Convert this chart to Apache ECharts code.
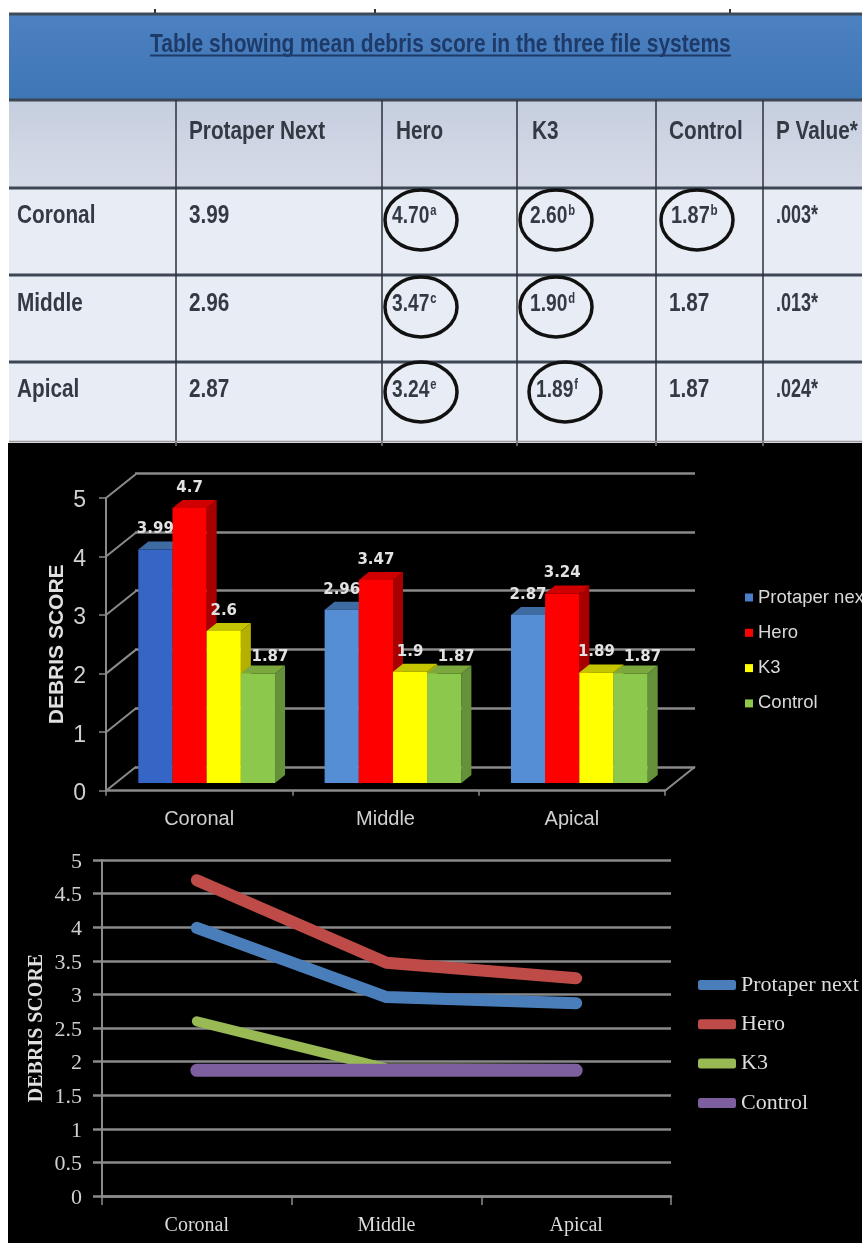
<!DOCTYPE html>
<html><head><meta charset="utf-8">
<style>html,body{margin:0;padding:0;background:#fff}#c{width:862px;height:1243px}</style>
<script src="https://cdn.jsdelivr.net/npm/echarts@6/dist/echarts.min.js"></script>
</head><body><div id="c"></div>
<script>
const regions = ['Coronal', 'Middle', 'Apical'];
const seriesNames = ['Protaper next', 'Hero', 'K3', 'Control'];
const protaper = [3.99, 2.96, 2.87];
const hero = [4.70, 3.47, 3.24];
const k3 = [2.60, 1.90, 1.89];
const control = [1.87, 1.87, 1.87];
const tableTitle = 'Table showing mean debris score in the three file systems';
const tableHeaders = ['Protaper Next', 'Hero', 'K3', 'Control', 'P Value*'];
const pValues = ['.003*', '.013*', '.024*'];
const heroMarks = ['a', 'c', 'e'];
const k3Marks = ['b', 'd', 'f'];
const controlMarks = ['b', '', ''];
const barTicks = [0, 1, 2, 3, 4, 5];
const yAxisTitle = 'DEBRIS SCORE';

const allValues = [protaper, hero, k3, control];
const barFronts = ['#558ed5', '#ff0000', '#ffff00', '#8cc84b'];
const barTops = ['#3f6ba3', '#d00000', '#c4c400', '#7aa83f'];
const barSides = ['#35608f', '#a80000', '#b4b000', '#64913a'];
const firstBlue = '#3565c5';
const lineColors = ['#4a7ebb', '#be4b48', '#98b954', '#7d5fa0'];
const SANS = '"Liberation Sans"', SERIF = '"Liberation Serif"';
const axisGrey = '#8a8a8a', labelGrey = '#d0d0d0';

const cols = [176, 382, 517, 656, 763];
const hLines = [100, 188, 275, 362];
const rowTextY = [216, 304, 390];
const g = [];
function rect(x, y, w, h, fill, z) { g.push({type:'rect', silent:true, z:z||0, shape:{x,y,width:w,height:h}, style:{fill}}); }
function line(x1,y1,x2,y2,stroke,w,z) { g.push({type:'line', silent:true, z:z||1, shape:{x1,y1,x2,y2}, style:{stroke,lineWidth:w}}); }
function vGrad(a,b){ return new echarts.graphic.LinearGradient(0,0,0,1,[{offset:0,color:a},{offset:1,color:b}]); }
function txt(x,y,text,size,sx,fill,sup){
  const s = {text: sup ? text+'{s|'+sup+'}' : text, fill, font:'bold '+size+'px '+SANS, textAlign:'left', textVerticalAlign:'middle'};
  if (sup) s.rich = {s:{font:'bold 14px '+SANS, fill, verticalAlign:'top', padding:[0,0,6,1]}};
  g.push({type:'text', silent:true, z:3, x, y, scaleX:sx, style:s});
}
function ring(cx,cy,rx,ry){ g.push({type:'ellipse', silent:true, z:4, shape:{cx,cy,rx,ry}, style:{fill:'none', stroke:'#111', lineWidth:3.5}}); }

rect(8,443,854,800,'#000',-10);
rect(9,14,853,86,vGrad('#4c81c2','#3f76b4'),-5);
rect(9,100,853,88,vGrad('#c6cfdf','#d6dbe8'),-5);
rect(9,188,853,255,'#e8ecf4',-5);
[155,375,730].forEach(x=>line(x,9,x,14,'#333',2));
line(9,14,862,14,'#3f4a58',3);
hLines.forEach(y=>line(9,y,862,y,'#3c4654',3));
cols.forEach(x=>line(x,100,x,443,'#2c3038',1.5));
line(9,441.5,862,441.5,'#999',1.5);
cols.forEach(x=>line(x,443,x,446,'#bbb',1));

txt(150,45,tableTitle,25,0.84,'#1e3a68');
line(150,55.5,731,55.5,'#1e3a68',2,3);
const colTextX = [189,396,532,669,776];
tableHeaders.forEach((t,i)=>txt(colTextX[i],132,t,25,0.83,'#333a44'));
regions.forEach((r,i)=>{
  const y = rowTextY[i];
  txt(17,y,r,25,0.83,'#333a44');
  txt(colTextX[0],y,protaper[i].toFixed(2),25,0.83,'#333a44');
  txt(392,y,hero[i].toFixed(2),24,0.8,'#333a44',heroMarks[i]);
  txt(i===2?536:530,y,k3[i].toFixed(2),24,0.8,'#333a44',k3Marks[i]);
  txt(i===0?671:colTextX[3],y,control[i].toFixed(2),i===0?24:25,0.83,'#333a44',controlMarks[i]);
  txt(colTextX[4],y,pValues[i],25,0.72,'#333a44');
  const cy = [220,307,392][i];
  ring(421,cy,36,30);
  ring(i===2?565:556,cy,36,30);
  if(i===0) ring(697,cy,36,30);
});

const DX = 30, DY = -24, BAR_SHARE = 0.1835, DEPTH_X = 10, DEPTH_Y = -8;
function barRender(si){
  return function(params, api){
    const cat = api.value(0), v = api.value(1);
    const top = api.coord([cat, v]), base = api.coord([cat, 0]);
    const w = api.size([1,0])[0]*BAR_SHARE;
    const x0 = top[0] + (si-2)*w, x1 = x0+w, yT = top[1], yB = base[1];
    const front = (si===0 && cat===0) ? firstBlue : barFronts[si];
    const isLast = si===3;
    const label = String(v);
    return {type:'group', children:[
      {type:'polygon', z2:si, shape:{points:[[x1,yT],[x1+DEPTH_X,yT+DEPTH_Y],[x1+DEPTH_X,yB+DEPTH_Y],[x1,yB]]}, style:{fill:barSides[si]}},
      {type:'polygon', z2:si, shape:{points:[[x0,yT],[x0+DEPTH_X,yT+DEPTH_Y],[x1+DEPTH_X,yT+DEPTH_Y],[x1,yT]]}, style:{fill:barTops[si]}},
      {type:'rect', z2:si, shape:{x:x0,y:yT,width:w,height:yB-yT}, style:{fill:front}},
      {type:'text', z2:50, x:x0+w/2+(isLast?12:0), y:yT-(isLast?16:20),
        style:{text:label, fill:'#e2e2e2', font:'bold 15px "DejaVu Sans"', textAlign:'center', textVerticalAlign:'middle'}}
    ]};
  };
}
function slantRender(params, api){
  const p = api.coord([0, api.value(0)]), w = api.size([1,0])[0];
  const x = p[0]-w/2;
  return {type:'line', shape:{x1:x,y1:p[1],x2:x+DX,y2:p[1]+DY}, style:{stroke:axisGrey,lineWidth:2}};
}
function floorRender(params, api){
  const p = api.coord([2, 0]), w = api.size([1,0])[0];
  return {type:'line', shape:{x1:p[0]+w/2,y1:p[1],x2:p[0]+w/2+DX,y2:p[1]+DY}, style:{stroke:axisGrey,lineWidth:2}};
}

const series = [];
series.push({type:'custom', name:'slants', xAxisIndex:0, yAxisIndex:0, silent:true, z:1, data:barTicks.map(t=>[t]), encode:{y:0}, renderItem:slantRender, clip:false});
series.push({type:'custom', name:'floor', xAxisIndex:0, yAxisIndex:0, silent:true, z:1, data:[[regions[2],0]], encode:{x:0,y:1}, renderItem:floorRender, clip:false});
seriesNames.forEach((n,si)=>{
  series.push({type:'custom', name:n, xAxisIndex:2, yAxisIndex:2, silent:true, z:3, clip:false,
    itemStyle:{color:si===0?'#4a7ec8':barFronts[si]},
    encode:{x:0,y:1}, data:regions.map((r,i)=>[r,allValues[si][i]]), renderItem:barRender(si)});
});
seriesNames.forEach((n,si)=>{
  series.push({type:'line', name:n, xAxisIndex:3, yAxisIndex:3, symbol:'none', silent:true, z:3,
    lineStyle:{color:lineColors[si], width:[12,12,10,13][si], cap:'round', join:'round'},
    itemStyle:{color:lineColors[si]}, data:allValues[si].slice()});
});

const hiddenCat = {type:'category', data:regions, show:false};
const hiddenVal = {type:'value', min:0, max:5, interval:1, show:false};
const option = {
  animation:false, backgroundColor:'#fff',
  graphic:{elements:g},
  grid:[
    {left:106, top:498, width:559, height:292.7},
    {left:135, top:473, width:560, height:294},
    {left:113.5, top:490.5, width:559, height:292.5},
    {left:102, top:860, width:569, height:336}
  ],
  xAxis:[
    {gridIndex:0, type:'category', data:regions, boundaryGap:true,
      axisLine:{lineStyle:{color:axisGrey,width:2.5}}, axisTick:{show:true,length:5,lineStyle:{color:axisGrey,width:1.5}},
      axisLabel:{color:labelGrey,fontFamily:SANS,fontSize:20,margin:19}},
    {gridIndex:1, type:'category', data:regions, axisLine:{show:false}, axisTick:{show:false}, axisLabel:{show:false}},
    Object.assign({gridIndex:2}, hiddenCat),
    {gridIndex:3, type:'category', data:regions, boundaryGap:true,
      axisLine:{lineStyle:{color:axisGrey,width:2.5}}, axisTick:{show:true,length:9,lineStyle:{color:axisGrey,width:1.5}},
      axisLabel:{color:'#dcdcdc',fontFamily:SERIF,fontSize:20,margin:20}}
  ],
  yAxis:[
    {gridIndex:0, type:'value', min:0, max:5, interval:1, name:yAxisTitle, nameLocation:'middle', nameGap:38, nameRotate:90, nameMoveOverlap:false,
      nameTextStyle:{color:'#e0e0e0',fontFamily:SANS,fontWeight:'bold',fontSize:21},
      axisLine:{show:true,lineStyle:{color:axisGrey,width:2}}, axisTick:{show:true,length:7,lineStyle:{color:axisGrey,width:1.5}},
      splitLine:{show:false}, axisLabel:{color:labelGrey,fontFamily:SANS,fontSize:23,margin:20,verticalAlign:'top',lineHeight:6}},
    {gridIndex:1, type:'value', min:0, max:5, interval:1, axisLine:{show:false}, axisTick:{show:false}, axisLabel:{show:false},
      splitLine:{show:true,lineStyle:{color:axisGrey,width:2.5}}},
    Object.assign({gridIndex:2}, hiddenVal),
    {gridIndex:3, type:'value', min:0, max:5, interval:0.5, name:yAxisTitle, nameLocation:'middle', nameGap:55, nameRotate:90, nameMoveOverlap:false,
      nameTextStyle:{color:'#e0e0e0',fontFamily:SERIF,fontWeight:'bold',fontSize:20},
      axisLine:{show:true,lineStyle:{color:axisGrey,width:2}}, axisTick:{show:true,length:9,lineStyle:{color:axisGrey,width:2.5}},
      splitLine:{show:true,lineStyle:{color:axisGrey,width:2.5}},
      axisLabel:{color:labelGrey,fontFamily:SERIF,fontSize:22,margin:20,verticalAlign:'top',lineHeight:4,formatter:v=>String(v)}}
  ],
  legend:[
    {orient:'vertical', left:745, top:588, padding:0, itemWidth:8, itemHeight:8, itemGap:16.3, icon:'rect', selectedMode:false,
      textStyle:{color:'#d8d8d8',fontFamily:SANS,fontSize:18.5},
      data:seriesNames.map((n,si)=>({name:n, itemStyle:{color:si===0?'#4a7ec8':barFronts[si]}}))},
    {orient:'vertical', left:698, top:974, padding:0, itemWidth:38, itemHeight:10, itemGap:17.3, icon:'roundRect', selectedMode:false,
      textStyle:{color:'#dcdcdc',fontFamily:SERIF,fontSize:22},
      data:seriesNames.map((n,si)=>({name:n, icon:'roundRect', itemStyle:{color:lineColors[si]}}))}
  ],
  series
};
echarts.init(document.getElementById('c'),null,{renderer:'canvas',width:862,height:1243}).setOption(option);
</script></body></html>
